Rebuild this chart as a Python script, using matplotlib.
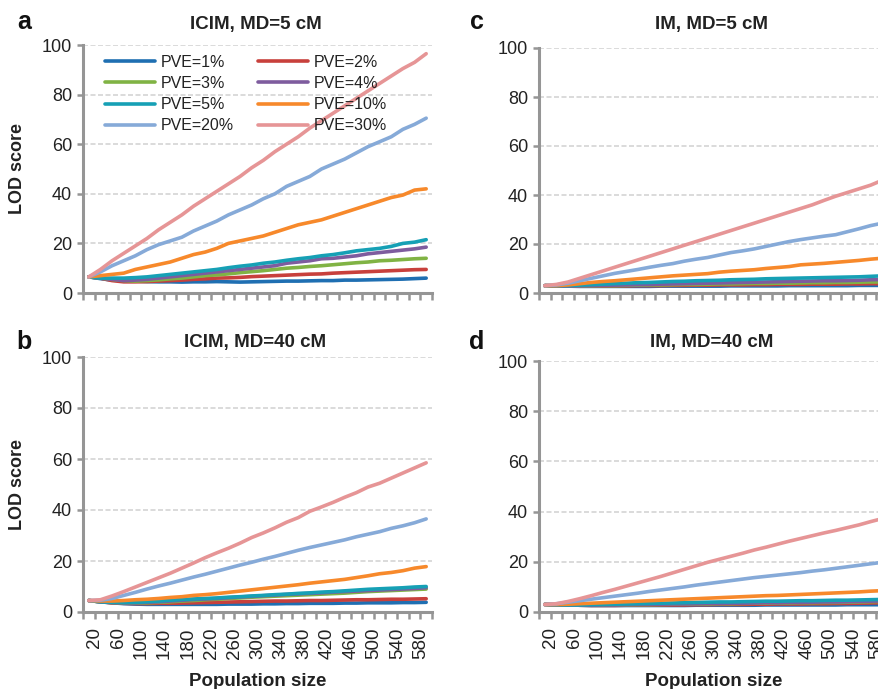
import matplotlib
matplotlib.use("Agg")
import matplotlib.pyplot as plt
import matplotlib.transforms as mtransforms

plt.rcParams['font.family'] = ['Liberation Sans', 'DejaVu Sans']

# --- Dados ---
pop_size = list(range(20, 601, 20))
pve_labels = ['PVE=1%', 'PVE=2%', 'PVE=3%', 'PVE=4%', 'PVE=5%', 'PVE=10%', 'PVE=20%', 'PVE=30%']
cores = ['#1f6fb2', '#c8403c', '#80b344', '#7e5c9e', '#16a0b5', '#f7892b', '#86aad8', '#e69596']

# a) ICIM, MD=5 cM
icim5_pve1 = [6.5, 5.8, 5.2, 5, 4.8, 4.6, 4.5, 4.5, 4.4, 4.5, 4.5, 4.6, 4.5, 4.4, 4.5, 4.6, 4.7, 4.8, 4.8, 4.9, 5, 5, 5.2, 5.2, 5.3, 5.4, 5.5, 5.6, 5.8, 6]
icim5_pve2 = [6.5, 6, 5, 4.5, 4.5, 4.6, 4.8, 5, 5.2, 5.5, 5.7, 6, 6.1, 6.3, 6.6, 6.8, 7, 7.2, 7.4, 7.6, 7.7, 8, 8.2, 8.4, 8.6, 8.8, 9, 9.2, 9.4, 9.5]
icim5_pve3 = [6.5, 6, 5.5, 5, 4.8, 5, 5.3, 5.7, 6, 6.5, 7, 7.3, 7.7, 8.2, 8.6, 9, 9.5, 10, 10.3, 10.7, 11, 11.4, 11.8, 12.2, 12.5, 13, 13.2, 13.5, 13.8, 14]
icim5_pve4 = [6.5, 6, 5.5, 5, 5.2, 5.5, 6, 6.5, 7, 7.5, 8, 8.5, 9, 9.5, 10, 10.5, 11, 12, 12.5, 13, 13.8, 14, 14.5, 15, 15.8, 16.3, 16.8, 17.3, 17.8, 18.5]
icim5_pve5 = [6.5, 6, 6, 6, 6.2, 6.5, 7, 7.5, 8, 8.5, 9, 9.5, 10.2, 10.8, 11.3, 12, 12.5, 13.2, 13.8, 14.3, 15, 15.5, 16.2, 17, 17.5, 18, 18.8, 20, 20.5, 21.5]
icim5_pve10 = [6.5, 7, 7.5, 8, 9.5, 10.5, 11.5, 12.5, 14, 15.5, 16.5, 18, 20, 21, 22, 23, 24.5, 26, 27.5, 28.5, 29.5, 31, 32.5, 34, 35.5, 37, 38.5, 39.5, 41.5, 42]
icim5_pve20 = [6.5, 8.5, 11, 13, 15, 17.5, 19.5, 21, 22.5, 25, 27, 29, 31.5, 33.5, 35.5, 38, 40, 43, 45, 47, 50, 52, 54, 56.5, 59, 61, 63, 66, 68, 70.5]
icim5_pve30 = [6.5, 9.5, 13, 16, 19, 22, 25.5, 28.5, 31.5, 35, 38, 41, 44, 47, 50.5, 53.5, 57, 60, 63, 66.5, 69.5, 72.5, 75.5, 78.5, 81.5, 84.5, 87.5, 90.5, 93, 96.5]

# b) ICIM, MD=40 cM
icim40_pve1 = [4.5, 4, 3.6, 3.3, 3.1, 3, 3, 3, 3, 3, 3, 3, 3.1, 3.1, 3.1, 3.2, 3.2, 3.3, 3.3, 3.4, 3.4, 3.4, 3.5, 3.5, 3.6, 3.6, 3.6, 3.7, 3.7, 3.8]
icim40_pve2 = [4.5, 4, 3.6, 3.4, 3.3, 3.3, 3.4, 3.4, 3.5, 3.6, 3.7, 3.8, 3.9, 4, 4.1, 4.2, 4.3, 4.3, 4.4, 4.5, 4.5, 4.6, 4.7, 4.8, 4.8, 4.9, 5, 5, 5.1, 5.2]
icim40_pve3 = [4.5, 4, 3.7, 3.5, 3.5, 3.6, 3.8, 4, 4.3, 4.5, 4.8, 5, 5.3, 5.5, 5.8, 6, 6.2, 6.4, 6.6, 6.8, 7, 7.2, 7.4, 7.7, 8, 8.2, 8.4, 8.6, 8.8, 9]
icim40_pve4 = [4.5, 4, 3.7, 3.6, 3.6, 3.8, 4, 4.3, 4.6, 4.9, 5.1, 5.3, 5.6, 5.9, 6.1, 6.4, 6.6, 6.9, 7.1, 7.3, 7.5, 7.8, 8, 8.2, 8.4, 8.6, 8.8, 9, 9.2, 9.5]
icim40_pve5 = [4.5, 4, 3.8, 3.7, 3.8, 4, 4.3, 4.6, 4.9, 5.1, 5.3, 5.5, 5.8, 6, 6.3, 6.5, 6.8, 7, 7.3, 7.5, 7.8, 8, 8.3, 8.6, 8.9, 9.1, 9.3, 9.5, 9.8, 10]
icim40_pve10 = [4.5, 4.3, 4.3, 4.5, 4.8, 5, 5.3, 5.7, 6, 6.5, 6.8, 7.2, 7.7, 8.2, 8.7, 9.2, 9.7, 10.2, 10.7, 11.3, 11.8, 12.3, 12.8, 13.5, 14.2, 15, 15.5, 16.2, 17.2, 17.8]
icim40_pve20 = [4.5, 4.6, 5.3, 6.5, 7.7, 9, 10.2, 11.3, 12.5, 13.7, 14.8, 16, 17.2, 18.4, 19.5, 20.7, 21.8, 23, 24.2, 25.3, 26.3, 27.3, 28.3, 29.5, 30.5, 31.5, 32.8, 33.8, 35, 36.5]
icim40_pve30 = [4.5, 4.8, 6.3, 8, 9.8, 11.6, 13.4, 15.2, 17.2, 19.2, 21.3, 23.2, 25, 27, 29.2, 31, 33, 35.2, 37, 39.5, 41.2, 43, 45, 46.8, 49, 50.5, 52.5, 54.5, 56.5, 58.5]

# c) IM, MD=5 cM
im5_pve1 = [3, 2.9, 2.8, 2.7, 2.7, 2.7, 2.7, 2.7, 2.7, 2.7, 2.8, 2.8, 2.8, 2.8, 2.8, 2.8, 2.9, 2.9, 2.9, 2.9, 2.9, 3, 3, 3, 3, 3, 3, 3.1, 3.1, 3.1]
im5_pve2 = [3, 2.9, 2.8, 2.8, 2.8, 2.8, 2.9, 2.9, 3, 3, 3, 3.1, 3.1, 3.2, 3.2, 3.3, 3.3, 3.3, 3.4, 3.4, 3.5, 3.5, 3.5, 3.6, 3.6, 3.6, 3.7, 3.7, 3.8, 3.8]
im5_pve3 = [3, 2.9, 2.8, 2.8, 2.9, 3, 3, 3.1, 3.2, 3.3, 3.3, 3.4, 3.5, 3.5, 3.6, 3.7, 3.7, 3.8, 3.9, 3.9, 4, 4, 4.1, 4.2, 4.2, 4.3, 4.3, 4.4, 4.5, 4.5]
im5_pve4 = [3, 2.9, 2.8, 2.9, 3, 3.1, 3.2, 3.3, 3.4, 3.5, 3.6, 3.7, 3.8, 3.9, 4, 4.1, 4.2, 4.3, 4.4, 4.5, 4.6, 4.7, 4.8, 4.9, 5, 5, 5.1, 5.2, 5.4, 5.5]
im5_pve5 = [3, 3, 3, 3.2, 3.4, 3.6, 3.8, 4, 4.2, 4.3, 4.5, 4.7, 4.8, 5, 5.1, 5.2, 5.4, 5.5, 5.6, 5.8, 5.9, 6, 6.1, 6.2, 6.3, 6.4, 6.5, 6.6, 6.8, 7]
im5_pve10 = [3, 3, 3.3, 3.8, 4.3, 4.7, 5, 5.4, 5.8, 6.2, 6.6, 7, 7.3, 7.6, 7.9, 8.5, 8.9, 9.2, 9.5, 10, 10.4, 10.8, 11.5, 11.8, 12.1, 12.5, 12.9, 13.3, 13.8, 14.2]
im5_pve20 = [3, 3.3, 4, 5, 6, 7, 8, 8.8, 9.6, 10.5, 11.3, 12, 13, 13.8, 14.5, 15.5, 16.5, 17.2, 18, 19, 20, 21, 21.8, 22.5, 23.2, 23.8, 25, 26.2, 27.5, 28.5]
im5_pve30 = [3, 3.5, 4.5, 6, 7.5, 9, 10.5, 12, 13.5, 15, 16.5, 18, 19.5, 21, 22.5, 24, 25.5, 27, 28.5, 30, 31.5, 33, 34.5, 36, 37.8, 39.5, 41, 42.5, 44, 46]

# d) IM, MD=40 cM
im40_pve1 = [3, 2.9, 2.8, 2.7, 2.6, 2.6, 2.6, 2.6, 2.6, 2.6, 2.6, 2.6, 2.6, 2.7, 2.7, 2.7, 2.7, 2.7, 2.7, 2.8, 2.8, 2.8, 2.8, 2.8, 2.8, 2.8, 2.9, 2.9, 2.9, 2.9]
im40_pve2 = [3, 2.9, 2.8, 2.7, 2.6, 2.6, 2.6, 2.7, 2.7, 2.7, 2.8, 2.8, 2.8, 2.9, 2.9, 3, 3, 3, 3.1, 3.1, 3.2, 3.2, 3.2, 3.3, 3.3, 3.4, 3.4, 3.5, 3.6, 3.7]
im40_pve3 = [3, 2.9, 2.8, 2.7, 2.7, 2.7, 2.8, 2.8, 2.9, 2.9, 3, 3.1, 3.1, 3.2, 3.2, 3.3, 3.3, 3.4, 3.5, 3.5, 3.6, 3.6, 3.7, 3.7, 3.8, 3.8, 3.9, 4, 4.1, 4.2]
im40_pve4 = [3, 2.9, 2.8, 2.7, 2.7, 2.8, 2.8, 2.9, 3, 3, 3.1, 3.2, 3.2, 3.3, 3.4, 3.4, 3.5, 3.5, 3.6, 3.7, 3.7, 3.8, 3.8, 3.9, 4, 4, 4.1, 4.2, 4.3, 4.4]
im40_pve5 = [3, 2.9, 2.8, 2.8, 2.9, 3, 3.1, 3.2, 3.3, 3.4, 3.5, 3.6, 3.7, 3.8, 3.9, 4, 4, 4.1, 4.2, 4.3, 4.3, 4.4, 4.5, 4.5, 4.6, 4.7, 4.7, 4.8, 4.9, 5]
im40_pve10 = [3, 3, 3.1, 3.3, 3.5, 3.7, 3.9, 4.1, 4.3, 4.5, 4.7, 4.9, 5.1, 5.3, 5.5, 5.7, 5.9, 6.1, 6.3, 6.5, 6.6, 6.8, 7, 7.2, 7.4, 7.6, 7.8, 8, 8.3, 8.5]
im40_pve20 = [3, 3.3, 3.9, 4.5, 5.1, 5.7, 6.3, 6.9, 7.5, 8.2, 8.8, 9.4, 10, 10.7, 11.3, 11.9, 12.5, 13.1, 13.7, 14.2, 14.7, 15.2, 15.7, 16.3, 16.8, 17.4, 18, 18.6, 19.2, 19.8]
im40_pve30 = [3, 3.3, 4.2, 5.3, 6.5, 7.8, 9, 10.3, 11.6, 12.9, 14.2, 15.6, 17, 18.4, 19.8, 21, 22.2, 23.4, 24.7, 25.8, 27, 28.2, 29.3, 30.4, 31.5, 32.5, 33.6, 34.7, 36, 37.2]

paineis = [
    ('a', 'ICIM, MD=5 cM', [icim5_pve1, icim5_pve2, icim5_pve3, icim5_pve4, icim5_pve5, icim5_pve10, icim5_pve20, icim5_pve30]),
    ('b', 'ICIM, MD=40 cM', [icim40_pve1, icim40_pve2, icim40_pve3, icim40_pve4, icim40_pve5, icim40_pve10, icim40_pve20, icim40_pve30]),
    ('c', 'IM, MD=5 cM', [im5_pve1, im5_pve2, im5_pve3, im5_pve4, im5_pve5, im5_pve10, im5_pve20, im5_pve30]),
    ('d', 'IM, MD=40 cM', [im40_pve1, im40_pve2, im40_pve3, im40_pve4, im40_pve5, im40_pve10, im40_pve20, im40_pve30]),
]

# --- Layout (em pixels da figura 879x689) ---
W, H = 879, 689
# (esquerda, y do zero, y do 100)
posicoes = {'a': (83, 293, 45), 'b': (83, 612, 357), 'c': (539, 293, 48), 'd': (539, 612, 361)}
largura = 349
cinza_eixo = '#959595'

fig = plt.figure(figsize=(W / 100, H / 100), dpi=100)


def desenhar_painel(letra, titulo, series):
    x0, y_zero, y_cem = posicoes[letra]
    ax = fig.add_axes([x0 / W, (H - y_zero) / H, largura / W, (y_zero - y_cem) / H])
    idx = list(range(len(pop_size)))
    for serie, cor, rotulo in zip(series, cores, pve_labels):
        ax.plot(idx, serie, color=cor, lw=2.6, label=rotulo, solid_capstyle='round')

    ax.set_xlim(-0.5, len(pop_size) - 0.5)
    ax.set_ylim(0, 100)
    ax.set_yticks(range(0, 101, 20))
    ax.yaxis.grid(True, color='#d4d4d4', linestyle=(0, (3, 1.5)), lw=1.2)
    ax.set_axisbelow(True)

    for lado in ['top', 'right']:
        ax.spines[lado].set_visible(False)
    for lado in ['left', 'bottom']:
        ax.spines[lado].set_color(cinza_eixo)
        ax.spines[lado].set_linewidth(2.2)

    ax.tick_params(axis='y', length=4, width=1.8, color=cinza_eixo, labelsize=13,
                   labelcolor='#222222', pad=4)

    # marcas entre categorias (estilo Excel) e rótulos a cada 40
    ax.set_xticks([i - 0.5 for i in range(len(pop_size) + 1)], minor=True)
    ax.set_xticks(idx[::2])
    ax.tick_params(axis='x', which='minor', length=5, width=1.8, color=cinza_eixo)
    if letra in ('b', 'd'):
        ax.set_xticklabels([str(v) for v in pop_size[::2]], rotation=90)
        ax.tick_params(axis='x', which='major', length=0, pad=11, labelsize=13.5, labelcolor='#222222')
        desloc = mtransforms.ScaledTranslation(6 / 100, 0, fig.dpi_scale_trans)
        for lbl in ax.get_xticklabels():
            lbl.set_transform(lbl.get_transform() + desloc)
        fig.text((x0 + largura / 2) / W, 1 - 686 / H, 'Population size', ha='center', va='baseline',
                 fontsize=13.5, fontweight='bold', color='#222222')
    else:
        ax.set_xticklabels([])
        ax.tick_params(axis='x', which='major', length=0)

    # título e letra do painel
    base_titulo = 29 if letra in ('a', 'c') else 347
    fig.text((x0 + largura / 2 - 2) / W, 1 - base_titulo / H, titulo, ha='center', va='baseline',
             fontsize=13.5, fontweight='bold', color='#222222')
    letra_x = 24 if letra in ('a', 'b') else 477
    letra_y = 29 if letra in ('a', 'c') else 349
    fig.text(letra_x / W, 1 - letra_y / H, letra, ha='center', va='baseline',
             fontsize=18, fontweight='bold', color='#111111')

    if letra in ('a', 'b'):
        fig.text(18 / W, 1 - ((y_zero + y_cem) / 2) / H, 'LOD score', rotation=90, ha='center',
                 va='center', fontsize=13, fontweight='bold', color='#222222')
    return ax


eixos = {}
for letra, titulo, series in paineis:
    eixos[letra] = desenhar_painel(letra, titulo, series)

# Legenda só no painel a, preenchida por linha (2 colunas)
handles, labels = eixos['a'].get_legend_handles_labels()
ordem = [0, 2, 4, 6, 1, 3, 5, 7]
eixos['a'].legend([handles[i] for i in ordem], [labels[i] for i in ordem], ncol=2, frameon=False,
                  loc='upper left', bbox_to_anchor=(105 / W, 1 - 55 / H), bbox_transform=fig.transFigure,
                  borderaxespad=0, borderpad=0, fontsize=11.5, handlelength=3.1, handletextpad=0.4,
                  columnspacing=1.5, labelspacing=0.38, labelcolor='#222222')

fig.savefig('out.png', dpi=100)
